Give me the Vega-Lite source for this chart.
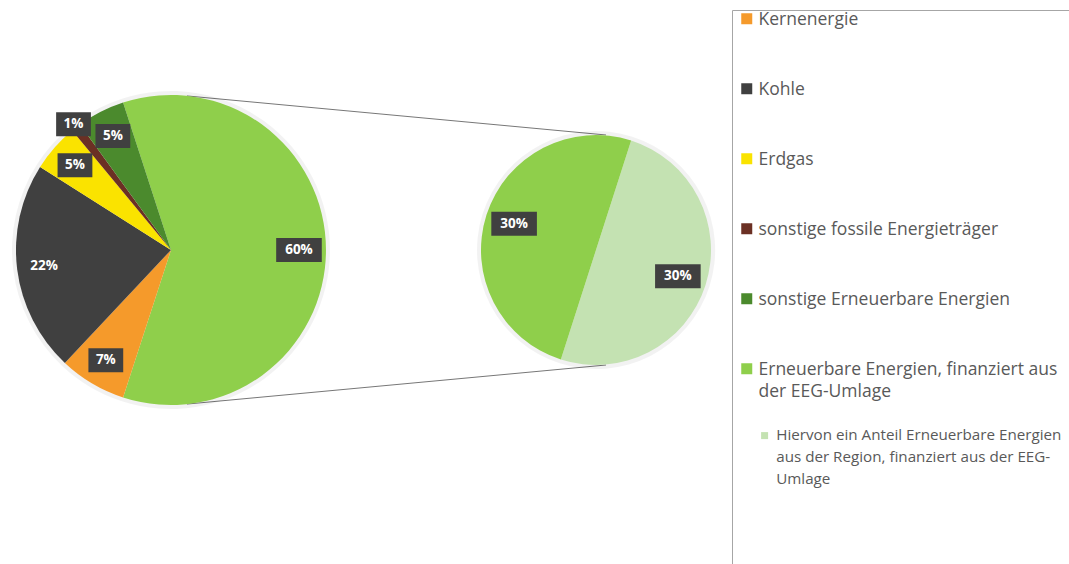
{
  "$schema": "https://vega.github.io/schema/vega-lite/v6.json",
  "width": 1069,
  "height": 500,
  "autosize": {"type": "none"},
  "padding": {"left": 0, "top": 0, "right": 0, "bottom": 64},
  "background": "white",
  "config": {
    "view": {"stroke": null},
    "style": {"guide-label": {"dy": -8, "lineHeight": 22}}
  },
  "datasets": {
    "main": [
      {"pie": "main", "cat": "Erneuerbare Energien, finanziert aus der EEG-Umlage", "share": 0.60, "idx": 0},
      {"pie": "main", "cat": "Kernenergie", "share": 0.07, "idx": 1},
      {"pie": "main", "cat": "Kohle", "share": 0.22, "idx": 2},
      {"pie": "main", "cat": "Erdgas", "share": 0.05, "idx": 3},
      {"pie": "main", "cat": "sonstige fossile Energieträger", "share": 0.01, "idx": 4},
      {"pie": "main", "cat": "sonstige Erneuerbare Energien", "share": 0.05, "idx": 5}
    ],
    "sub": [
      {"pie": "sub", "cat": "Hiervon ein Anteil Erneuerbare Energien aus der Region, finanziert aus der EEG-Umlage", "share": 0.30, "idx": 0},
      {"pie": "sub", "cat": "Erneuerbare Energien, finanziert aus der EEG-Umlage", "share": 0.30, "idx": 1}
    ],
    "links": [
      {"side": "top", "from": "main", "to": "sub", "y0": 0.994, "y1": 0.742},
      {"side": "bottom", "from": "main", "to": "sub", "y0": -0.994, "y1": -0.742}
    ]
  },
  "layer": [
    {
      "data": {"name": "links"},
      "mark": {"type": "rule", "color": "#777777", "strokeWidth": 1, "xOffset": 16, "x2Offset": 10},
      "encoding": {
        "x": {"field": "from", "type": "nominal", "scale": {"type": "point", "domain": ["main", "sub"], "padding": 0.7576, "align": 0.2655}, "axis": null},
        "x2": {"field": "to"},
        "y": {"field": "y0", "type": "quantitative", "scale": {"domain": [-1.6129, 1.6129], "nice": false, "zero": false}, "axis": null},
        "y2": {"field": "y1"}
      }
    },
    {
      "data": {"name": "main"},
      "transform": [
        {"joinaggregate": [{"op": "sum", "field": "share", "as": "total"}]},
        {"window": [{"op": "sum", "field": "share", "as": "cum"}], "sort": [{"field": "idx"}], "frame": [null, 0]},
        {"calculate": "-0.31416 + 2 * PI * (datum.cum - datum.share / 2) / datum.total", "as": "ang"},
        {"calculate": "datum.share < 0.02 ? 159 : 128", "as": "lr"},
        {"calculate": "datum.lr * sin(datum.ang)", "as": "dx"},
        {"calculate": "-datum.lr * cos(datum.ang)", "as": "dy"}
      ],
      "encoding": {
        "x": {"field": "pie", "type": "nominal", "scale": {"type": "point", "domain": ["main", "sub"], "padding": 0.7576, "align": 0.2655}, "axis": null}
      },
      "layer": [
        {
          "mark": {"type": "arc", "outerRadius": 159, "color": "#000000", "opacity": 0.05},
          "encoding": {
            "theta": {"field": "share", "type": "quantitative", "stack": true, "scale": {"range": [-0.31416, 5.96903]}},
            "order": {"field": "idx", "type": "quantitative"}
          }
        },
        {
          "mark": {"type": "arc", "outerRadius": 155},
          "encoding": {
            "theta": {"field": "share", "type": "quantitative", "stack": true, "scale": {"range": [-0.31416, 5.96903]}},
            "order": {"field": "idx", "type": "quantitative"},
            "color": {
              "field": "cat", "type": "nominal",
              "scale": {
                "domain": ["Kernenergie", "Kohle", "Erdgas", "sonstige fossile Energieträger", "sonstige Erneuerbare Energien", "Erneuerbare Energien, finanziert aus der EEG-Umlage"],
                "range": ["#F59A2B", "#404040", "#FAE300", "#6B3024", "#4B8A2D", "#8FCF4B"]
              },
              "legend": {
                "orient": "none", "legendX": 732, "legendY": 10, "direction": "vertical",
                "title": ["\u00a0", "\u00a0", "\u00a0", "\u00a0", "\u00a0", "\u00a0", "\u00a0", "\u00a0", "\u00a0", "\u00a0", "\u00a0", "\u00a0", "\u00a0", "\u00a0", "\u00a0", "\u00a0", "\u00a0", "\u00a0", "\u00a0", "\u00a0", "\u00a0", "\u00a0", "\u00a0", "\u00a0", "\u00a0", "\u00a0", "\u00a0", "\u00a0", "\u00a0", "\u00a0"],
                "titleOrient": "right", "titlePadding": 20, "titleFontSize": 12, "titleLineHeight": 30, "titleLimit": 2000,
                "strokeColor": "#a6a6a6", "padding": 0, "symbolOffset": 6,
                "symbolType": "square", "symbolSize": 121, "symbolStrokeWidth": 0,
                "labelFont": "Open Sans", "labelFontSize": 17.5, "labelColor": "#595959",
                "labelLimit": 600, "rowPadding": 51, "labelOffset": 3, "labelBaseline": "top",
                "labelExpr": "datum.label == 'Erneuerbare Energien, finanziert aus der EEG-Umlage' ? ['Erneuerbare Energien, finanziert aus', 'der EEG-Umlage'] : datum.label"
              }
            }
          }
        },
        {
          "mark": {"type": "point", "filled": true, "color": "#404040", "opacity": 1, "strokeWidth": 0, "size": 576},
          "encoding": {
            "y": {"datum": 0, "type": "quantitative", "scale": {"domain": [-1.6129, 1.6129], "nice": false, "zero": false}, "axis": null},
            "xOffset": {"field": "dx", "type": "quantitative", "scale": null},
            "yOffset": {"field": "dy", "type": "quantitative", "scale": null},
            "shape": {"condition": {"test": "datum.share >= 0.1", "value": "M-1.9,-1H1.9V1H-1.9Z"}, "value": "M-1.45,-1H1.45V1H-1.45Z"}
          }
        },
        {
          "mark": {"type": "text", "font": "Open Sans", "fontSize": 13.5, "fontWeight": "bold", "color": "white", "baseline": "middle", "align": "center"},
          "encoding": {
            "y": {"datum": 0, "type": "quantitative", "scale": {"domain": [-1.6129, 1.6129], "nice": false, "zero": false}, "axis": null},
            "xOffset": {"field": "dx", "type": "quantitative", "scale": null},
            "yOffset": {"field": "dy", "type": "quantitative", "scale": null},
            "text": {"field": "share", "type": "quantitative", "format": ".0%"}
          }
        }
      ]
    },
    {
      "data": {"name": "sub"},
      "transform": [
        {"joinaggregate": [{"op": "sum", "field": "share", "as": "total"}]},
        {"window": [{"op": "sum", "field": "share", "as": "cum"}], "sort": [{"field": "idx"}], "frame": [null, 0]},
        {"calculate": "0.3107 + 2 * PI * (datum.cum - datum.share / 2) / datum.total", "as": "ang"},
        {"calculate": "86 * sin(datum.ang)", "as": "dx"},
        {"calculate": "-86 * cos(datum.ang)", "as": "dy"}
      ],
      "encoding": {
        "x": {"field": "pie", "type": "nominal", "scale": {"type": "point", "domain": ["main", "sub"], "padding": 0.7576, "align": 0.2655}, "axis": null}
      },
      "layer": [
        {
          "mark": {"type": "arc", "outerRadius": 119, "color": "#000000", "opacity": 0.05},
          "encoding": {
            "theta": {"field": "share", "type": "quantitative", "stack": true, "scale": {"range": [0.3107, 6.5939]}},
            "order": {"field": "idx", "type": "quantitative"}
          }
        },
        {
          "mark": {"type": "arc", "outerRadius": 115},
          "encoding": {
            "theta": {"field": "share", "type": "quantitative", "stack": true, "scale": {"range": [0.3107, 6.5939]}},
            "order": {"field": "idx", "type": "quantitative"},
            "color": {
              "field": "cat", "type": "nominal",
              "scale": {
                "domain": ["Hiervon ein Anteil Erneuerbare Energien aus der Region, finanziert aus der EEG-Umlage", "Erneuerbare Energien, finanziert aus der EEG-Umlage"],
                "range": ["#C4E2B2", "#8FCF4B"]
              },
              "legend": {
                "orient": "none", "legendX": 757, "legendY": 428, "direction": "vertical",
                "title": null, "padding": 0,
                "values": ["Hiervon ein Anteil Erneuerbare Energien aus der Region, finanziert aus der EEG-Umlage"],
                "symbolType": "square", "symbolSize": 49, "symbolStrokeWidth": 0,
                "labelFont": "Open Sans", "labelFontSize": 15.2, "labelColor": "#595959",
                "labelLimit": 600, "labelOffset": 4, "labelBaseline": "top",
                "labelExpr": "['Hiervon ein Anteil Erneuerbare Energien', 'aus der Region, finanziert aus der EEG-', 'Umlage']"
              }
            }
          }
        },
        {
          "mark": {"type": "point", "filled": true, "color": "#404040", "opacity": 1, "strokeWidth": 0, "size": 576},
          "encoding": {
            "y": {"datum": 0, "type": "quantitative", "scale": {"domain": [-1.6129, 1.6129], "nice": false, "zero": false}, "axis": null},
            "xOffset": {"field": "dx", "type": "quantitative", "scale": null},
            "yOffset": {"field": "dy", "type": "quantitative", "scale": null},
            "shape": {"value": "M-1.9,-1H1.9V1H-1.9Z"}
          }
        },
        {
          "mark": {"type": "text", "font": "Open Sans", "fontSize": 13.5, "fontWeight": "bold", "color": "white", "baseline": "middle", "align": "center"},
          "encoding": {
            "y": {"datum": 0, "type": "quantitative", "scale": {"domain": [-1.6129, 1.6129], "nice": false, "zero": false}, "axis": null},
            "xOffset": {"field": "dx", "type": "quantitative", "scale": null},
            "yOffset": {"field": "dy", "type": "quantitative", "scale": null},
            "text": {"field": "share", "type": "quantitative", "format": ".0%"}
          }
        }
      ]
    }
  ],
  "resolve": {"scale": {"theta": "independent", "color": "independent"}, "legend": {"color": "independent"}}
}
